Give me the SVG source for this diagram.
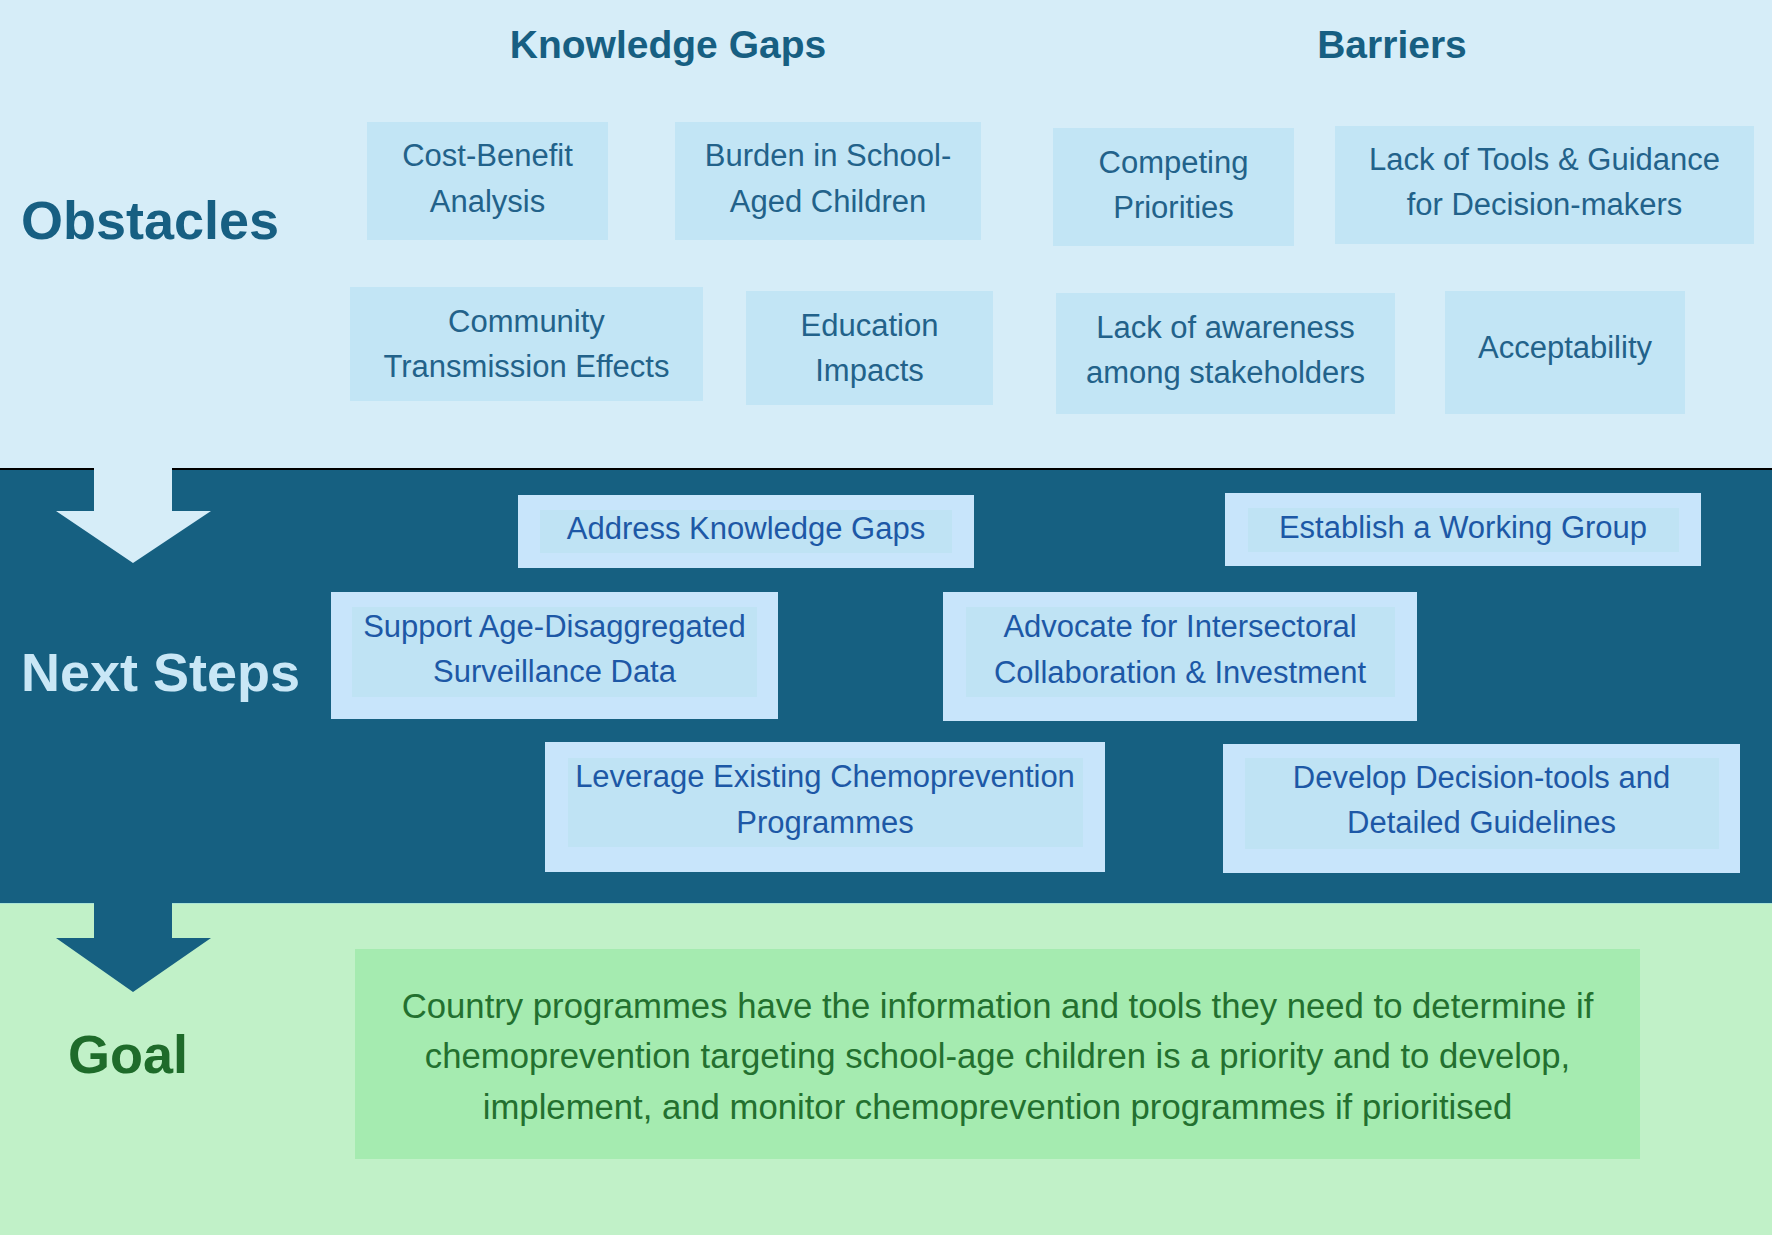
<svg xmlns="http://www.w3.org/2000/svg" width="1772" height="1235" viewBox="0 0 1772 1235">
<style>
text{font-family:"Liberation Sans",Arial,sans-serif;text-anchor:middle}
.band-title{font-weight:bold;font-size:54px;text-anchor:start}
.col-title{font-weight:bold;font-size:39px;fill:#175f82}
.obs rect{fill:#c2e5f5}
.obs text{font-size:31px;fill:#22628a}
.step .outer{fill:#c8e5fb}
.step .inner{fill:#bfe3f4}
.step text{font-size:31px;fill:#1d58a6}
.goal text{font-size:34.7px;fill:#23702f}
</style>
<g id="bands">
<rect x="0" y="0" width="1772" height="469" fill="#d6edf8"/>
<rect x="0" y="469" width="1772" height="434" fill="#166081"/>
<rect x="0" y="903" width="1772" height="332" fill="#c1f1c8"/>
<line x1="0" y1="469" x2="1772" y2="469" stroke="#000" stroke-width="2"/>
<line x1="0" y1="903.5" x2="1772" y2="903.5" stroke="#a9e3d6" stroke-width="1"/>
</g>
<g id="connectors">
<polygon points="94,460 172,460 172,511 211,511 133,563 56,511 94,511" fill="#d6edf8"/>
<polygon points="94,903 172,903 172,938 211,938 133,992 56,938 94,938" fill="#166081"/>
</g>
<g id="labels">
<text class="band-title" x="21" y="239" fill="#175f82">Obstacles</text>
<text class="band-title" x="21" y="691" fill="#c9e7f6">Next Steps</text>
<text class="band-title" x="68" y="1073" fill="#1e6b2a" font-size="53">Goal</text>
<text class="col-title" x="668" y="58">Knowledge Gaps</text>
<text class="col-title" x="1392" y="58">Barriers</text>
</g>
<g id="kg-cost" class="obs"><rect x="367" y="122" width="241" height="118"/><text x="487.5" y="166">Cost-Benefit</text><text x="487.5" y="212">Analysis</text></g>
<g id="kg-burden" class="obs"><rect x="675" y="122" width="306" height="118"/><text x="828" y="166">Burden in School-</text><text x="828" y="212">Aged Children</text></g>
<g id="kg-community" class="obs"><rect x="350" y="287" width="353" height="114"/><text x="526.5" y="332">Community</text><text x="526.5" y="377">Transmission Effects</text></g>
<g id="kg-education" class="obs"><rect x="746" y="291" width="247" height="114"/><text x="869.5" y="336">Education</text><text x="869.5" y="381">Impacts</text></g>
<g id="b-competing" class="obs"><rect x="1053" y="128" width="241" height="118"/><text x="1173.5" y="173">Competing</text><text x="1173.5" y="218">Priorities</text></g>
<g id="b-tools" class="obs"><rect x="1335" y="126" width="419" height="118"/><text x="1544.5" y="170">Lack of Tools &amp; Guidance</text><text x="1544.5" y="215">for Decision-makers</text></g>
<g id="b-awareness" class="obs"><rect x="1056" y="293" width="339" height="121"/><text x="1225.5" y="338">Lack of awareness</text><text x="1225.5" y="383">among stakeholders</text></g>
<g id="b-acceptability" class="obs"><rect x="1445" y="291" width="240" height="123"/><text x="1565" y="358">Acceptability</text></g>
<g id="s-address" class="step"><rect class="outer" x="518" y="495" width="456" height="73"/><rect class="inner" x="540" y="510" width="412" height="43"/><text x="746" y="539">Address Knowledge Gaps</text></g>
<g id="s-working" class="step"><rect class="outer" x="1225" y="493" width="476" height="73"/><rect class="inner" x="1248" y="508" width="431" height="44"/><text x="1463" y="538">Establish a Working Group</text></g>
<g id="s-surveillance" class="step"><rect class="outer" x="331" y="592" width="447" height="127"/><rect class="inner" x="352" y="607" width="405" height="90"/><text x="554.5" y="637">Support Age-Disaggregated</text><text x="554.5" y="682">Surveillance Data</text></g>
<g id="s-advocate" class="step"><rect class="outer" x="943" y="592" width="474" height="129"/><rect class="inner" x="966" y="607" width="429" height="90"/><text x="1180" y="637">Advocate for Intersectoral</text><text x="1180" y="683">Collaboration &amp; Investment</text></g>
<g id="s-leverage" class="step"><rect class="outer" x="545" y="742" width="560" height="130"/><rect class="inner" x="568" y="758" width="515" height="89"/><text x="825" y="787">Leverage Existing Chemoprevention</text><text x="825" y="833">Programmes</text></g>
<g id="s-develop" class="step"><rect class="outer" x="1223" y="744" width="517" height="129"/><rect class="inner" x="1245" y="758" width="474" height="91"/><text x="1481.5" y="788">Develop Decision-tools and</text><text x="1481.5" y="833">Detailed Guidelines</text></g>
<g id="goal" class="goal"><rect x="355" y="949" width="1285" height="210" fill="#a5ebb0"/><text x="997.5" y="1018">Country programmes have the information and tools they need to determine if</text><text x="997.5" y="1068">chemoprevention targeting school-age children is a priority and to develop,</text><text x="997.5" y="1119">implement, and monitor chemoprevention programmes if prioritised</text></g>
</svg>
